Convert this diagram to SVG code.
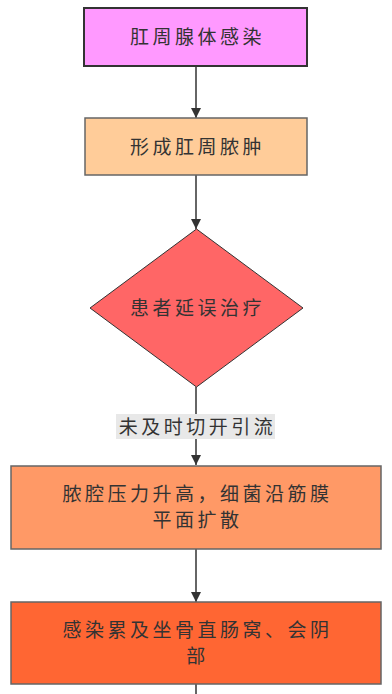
<svg xmlns="http://www.w3.org/2000/svg" width="392" height="694" viewBox="0 0 392 694">
<style>
.t{font-family:"Liberation Sans","Noto Sans CJK SC",sans-serif;font-size:19px;fill:#333;text-anchor:middle;dominant-baseline:central;letter-spacing:3.5px}
.e{stroke:#333;stroke-width:1.5;fill:none}
</style>
<defs>
<marker id="ah" viewBox="0 0 10 10" refX="10" refY="5" markerWidth="10" markerHeight="10" markerUnits="userSpaceOnUse" orient="auto">
<path d="M0,0 L10,5 L0,10 z" fill="#333"/>
</marker>
</defs>
<rect width="392" height="694" fill="#fff"/>
<g id="edges">
<line class="e" x1="196" y1="66" x2="196" y2="118" marker-end="url(#ah)"/>
<line class="e" x1="196" y1="175" x2="196" y2="229" marker-end="url(#ah)"/>
<line class="e" x1="196" y1="387" x2="196" y2="465" marker-end="url(#ah)"/>
<rect x="116" y="414" width="159" height="25" fill="#e8e8e8"/>
<text class="t" x="197.5" y="427">未及时切开引流</text>
<line class="e" x1="196" y1="549" x2="196" y2="602" marker-end="url(#ah)"/>
<line class="e" x1="196" y1="684" x2="196" y2="694"/>
</g>
<g id="n1">
<rect x="84" y="8" width="223" height="58" fill="#ff99ff" stroke="#333" stroke-width="2"/>
<text class="t" x="197.5" y="37">肛周腺体感染</text>
</g>
<g id="n2">
<rect x="85" y="118" width="222" height="57" fill="#ffcc99" stroke="#666" stroke-width="1.5"/>
<text class="t" x="197.5" y="147">形成肛周脓肿</text>
</g>
<g id="n3">
<polygon points="196.5,229 303,308 196.5,387 90,308" fill="#ff6666" stroke="#333" stroke-width="1"/>
<text class="t" x="197.5" y="308">患者延误治疗</text>
</g>
<g id="n4">
<rect x="11" y="466" width="370" height="83" fill="#ff9966" stroke="#666" stroke-width="1.5"/>
<text class="t" x="197.5" y="494">脓腔压力升高，细菌沿筋膜</text>
<text class="t" x="197.5" y="520">平面扩散</text>
</g>
<g id="n5">
<rect x="11" y="602" width="370" height="82" fill="#ff6633" stroke="#666" stroke-width="1.5"/>
<text class="t" x="197.5" y="630">感染累及坐骨直肠窝、会阴</text>
<text class="t" x="197.5" y="656">部</text>
</g>
</svg>
